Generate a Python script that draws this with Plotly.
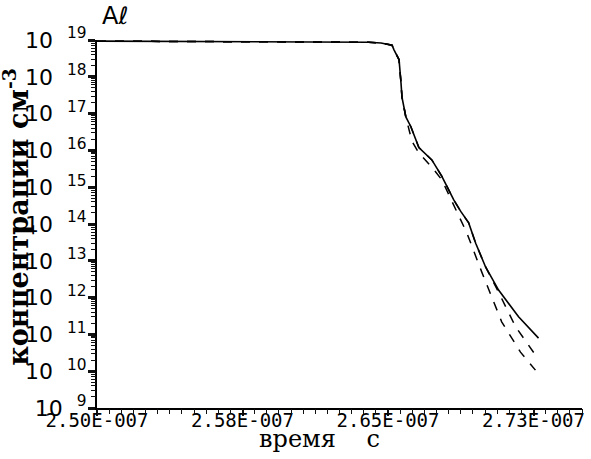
import plotly.graph_objects as go

# time, s
t_solid = [2.500e-7, 2.600e-7, 2.640e-7, 2.6464e-7, 2.6521e-7, 2.6531e-7, 2.6557e-7, 2.6567e-7,
           2.6572e-7, 2.6592e-7, 2.6618e-7, 2.6659e-7, 2.6726e-7, 2.6777e-7, 2.6839e-7, 2.6875e-7,
           2.6916e-7, 2.6952e-7, 2.7003e-7, 2.7070e-7, 2.7173e-7, 2.7276e-7]
c_solid = [9.3e18, 9.1e18, 8.7e18, 8.3e18, 7.2e18, 5.4e18, 2.9e18, 6.8e17,
           2.8e17, 8.1e16, 4.4e16, 1.2e16, 5.5e15, 2.0e15, 4.5e14, 2.2e14,
           1.07e14, 3.0e13, 6.8e12, 1.6e12, 3.0e11, 7.9e10]

t_dash1 = [2.500e-7, 2.600e-7, 2.640e-7, 2.6464e-7, 2.6521e-7, 2.6531e-7, 2.6557e-7, 2.6567e-7,
           2.6572e-7, 2.6592e-7, 2.6618e-7, 2.6659e-7, 2.6726e-7, 2.6777e-7, 2.6839e-7, 2.6875e-7,
           2.6916e-7, 2.6952e-7, 2.7003e-7, 2.7070e-7, 2.7158e-7, 2.7260e-7]
c_dash1 = [9.3e18, 9.1e18, 8.7e18, 8.3e18, 7.2e18, 5.4e18, 2.9e18, 6.8e17,
           2.8e17, 8.1e16, 4.4e16, 1.2e16, 5.5e15, 2.0e15, 4.5e14, 2.2e14,
           1.07e14, 3.0e13, 6.8e12, 1.4e12, 1.6e11, 2.75e10]

t_dash2 = [2.500e-7, 2.600e-7, 2.640e-7, 2.6464e-7, 2.6521e-7, 2.6531e-7, 2.6557e-7, 2.6567e-7,
           2.6572e-7, 2.6592e-7, 2.6623e-7, 2.6659e-7, 2.6726e-7, 2.6777e-7, 2.6839e-7, 2.6906e-7,
           2.6983e-7, 2.7086e-7, 2.7183e-7, 2.7260e-7]
c_dash2 = [9.3e18, 9.1e18, 8.7e18, 8.3e18, 7.2e18, 5.4e18, 2.9e18, 6.8e17,
           2.8e17, 8.1e16, 1.8e16, 8.5e15, 3.5e15, 1.6e15, 3.3e14, 5.8e13,
           5.0e12, 2.2e11, 3.3e10, 1.07e10]

x_label_vals = [2.500e-7, 2.575e-7, 2.650e-7, 2.725e-7]
x_label_text = ["2.50E-007", "2.58E-007", "2.65E-007", "2.73E-007"]
x_minor_step = 6.25e-10
x_range = [2.50e-7, 2.75e-7]
y_exponents = [9, 10, 11, 12, 13, 14, 15, 16, 17, 18, 19]
y_minor_digits = [2, 3, 4, 5, 6, 7, 8, 9]

n_x = int(round((x_range[1] - x_range[0]) / x_minor_step))
x_all = [x_range[0] + i * x_minor_step for i in range(n_x + 1)]
y_minor_vals = [d * 10.0 ** e for e in y_exponents[:-1] for d in y_minor_digits]

fig = go.Figure()
fig.add_trace(go.Scatter(x=t_dash2, y=c_dash2, mode="lines",
                         line=dict(color="black", width=1.5, dash="dash")))
fig.add_trace(go.Scatter(x=t_dash1, y=c_dash1, mode="lines",
                         line=dict(color="black", width=1.5, dash="dash")))
fig.add_trace(go.Scatter(x=t_solid, y=c_solid, mode="lines",
                         line=dict(color="black", width=1.6)))
# empty trace carrying the overlay axes that draw the minor ticks
fig.add_trace(go.Scatter(x=[None], y=[None], xaxis="x2", yaxis="y2", mode="lines", hoverinfo="skip"))

fig.update_layout(
    width=591, height=459,
    margin=dict(l=97, r=6, t=40, b=51),
    paper_bgcolor="white", plot_bgcolor="white",
    showlegend=False,
    xaxis=dict(range=x_range, tickmode="array", tickvals=x_label_vals, ticktext=x_label_text,
               showgrid=False, zeroline=False, showline=True, linecolor="black", linewidth=2,
               ticks="outside", ticklen=6, tickwidth=1.5, tickcolor="#111111",
               ticklabelstandoff=-12,
               tickfont=dict(family="DejaVu Sans Mono", size=19, color="black")),
    xaxis2=dict(range=x_range, overlaying="x", side="bottom", anchor="y",
                tickmode="array", tickvals=x_all, ticktext=["" for _ in x_all],
                showgrid=False, zeroline=False, showline=False,
                ticks="outside", ticklen=5, tickwidth=1.3, tickcolor="#111111"),
    yaxis=dict(type="log", range=[9, 19], tickmode="array",
               tickvals=[10.0 ** e for e in y_exponents],
               ticktext=["10&nbsp;&nbsp;<sup>%d</sup>" % e for e in y_exponents],
               showgrid=False, zeroline=False, showline=True, linecolor="black", linewidth=2,
               ticks="outside", ticklen=7, tickwidth=3, tickcolor="#111111",
               ticklabelstandoff=-3,
               tickfont=dict(family="DejaVu Sans", size=22, color="black")),
    yaxis2=dict(type="log", range=[9, 19], overlaying="y", side="left", anchor="x",
                tickmode="array", tickvals=y_minor_vals, ticktext=["" for _ in y_minor_vals],
                showgrid=False, zeroline=False, showline=False,
                ticks="outside", ticklen=5, tickwidth=1.2, tickcolor="#111111"),
    annotations=[
        dict(text="концентрации см<sup>-3</sup>", textangle=-90, xref="paper", yref="paper",
             x=0, y=0.52, xshift=-81, showarrow=False, xanchor="center", yanchor="middle",
             font=dict(family="DejaVu Serif", size=27, color="black", weight="bold")),
        dict(text="время&nbsp;&nbsp;&nbsp;&nbsp;с", xref="paper", yref="paper", x=0.458, y=0,
             yshift=-31, showarrow=False, xanchor="center", yanchor="middle",
             font=dict(family="DejaVu Serif", size=24, color="black")),
        dict(text="Aℓ", xref="paper", yref="paper", x=0, y=1, xshift=18, yshift=24,
             showarrow=False, xanchor="center", yanchor="middle",
             font=dict(family="DejaVu Sans", size=24, color="black")),
    ],
)

fig.write_html("out.html")
